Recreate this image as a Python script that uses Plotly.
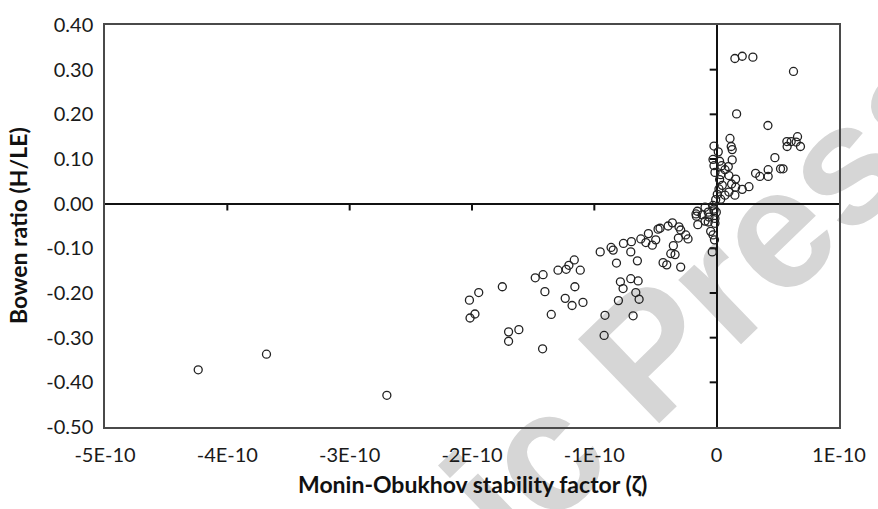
import plotly.graph_objects as go

# Monin-Obukhov stability factor (zeta) and Bowen ratio (H/LE)
zeta = [
    -4.238e-10, -3.680e-10, -2.696e-10,
    -2.021e-10, -1.945e-10, -2.016e-10, -1.976e-10, -1.752e-10, -1.701e-10, -1.617e-10,
    -1.701e-10, -1.423e-10, -1.483e-10, -1.419e-10, -1.404e-10, -1.297e-10, -1.230e-10,
    -1.208e-10, -1.164e-10, -1.115e-10, -1.159e-10, -1.238e-10, -1.182e-10, -1.093e-10,
    -1.352e-10,
    -0.952e-10, -0.863e-10, -0.846e-10, -0.819e-10, -0.762e-10, -0.697e-10, -0.702e-10,
    -0.648e-10, -0.620e-10, -0.579e-10, -0.558e-10, -0.526e-10, -0.498e-10, -0.479e-10,
    -0.463e-10, -0.397e-10, -0.362e-10, -0.308e-10, -0.294e-10, -0.313e-10, -0.253e-10,
    -0.234e-10, -0.354e-10, -0.375e-10, -0.340e-10, -0.438e-10, -0.408e-10, -0.294e-10,
    -0.787e-10, -0.765e-10, -0.702e-10, -0.642e-10, -0.661e-10, -0.634e-10, -0.803e-10,
    -0.913e-10, -0.683e-10, -0.920e-10,
    -0.158e-10, -0.169e-10, -0.095e-10, -0.069e-10, -0.022e-10, -0.003e-10, -0.166e-10,
    -0.118e-10, -0.063e-10, -0.095e-10, -0.014e-10, -0.154e-10, -0.069e-10, -0.014e-10,
    -0.049e-10, -0.030e-10, -0.018e-10, -0.036e-10, -0.022e-10, -0.030e-10,
    -0.008e-10, 0.033e-10, 0.005e-10, 0.068e-10, 0.149e-10, 0.019e-10, 0.100e-10,
    0.046e-10, 0.122e-10, 0.155e-10, 0.209e-10, 0.264e-10, 0.024e-10, 0.155e-10,
    0.033e-10, 0.100e-10, 0.068e-10, -0.014e-10, -0.022e-10, 0.041e-10, 0.095e-10,
    -0.030e-10, 0.024e-10, 0.127e-10, -0.022e-10, 0.013e-10, 0.109e-10, 0.119e-10,
    0.127e-10, 0.163e-10, 0.419e-10, 0.149e-10, 0.209e-10, 0.296e-10, 0.628e-10,
    0.574e-10, 0.609e-10, 0.661e-10, 0.650e-10, 0.576e-10, 0.685e-10, 0.476e-10,
    0.522e-10, 0.543e-10, 0.318e-10, 0.353e-10, 0.421e-10, 0.421e-10,
]
bowen = [
    -0.372, -0.337, -0.429,
    -0.216, -0.199, -0.256, -0.247, -0.186, -0.287, -0.282,
    -0.308, -0.325, -0.166, -0.159, -0.197, -0.149, -0.147,
    -0.138, -0.126, -0.149, -0.186, -0.212, -0.228, -0.221,
    -0.248,
    -0.108, -0.098, -0.104, -0.133, -0.089, -0.085, -0.108,
    -0.128, -0.079, -0.087, -0.067, -0.093, -0.081, -0.057,
    -0.055, -0.050, -0.043, -0.052, -0.059, -0.077, -0.070,
    -0.079, -0.094, -0.112, -0.114, -0.132, -0.137, -0.142,
    -0.175, -0.190, -0.168, -0.173, -0.199, -0.214, -0.217,
    -0.250, -0.251, -0.295,
    -0.017, -0.023, -0.008, -0.019, -0.016, -0.019, -0.028,
    -0.025, -0.030, -0.039, -0.033, -0.047, -0.041, -0.044,
    -0.062, -0.070, -0.081, -0.108, -0.012, -0.004,
    0.009, 0.010, 0.021, 0.019, 0.019, 0.033, 0.026,
    0.041, 0.044, 0.037, 0.032, 0.038, 0.054, 0.055,
    0.065, 0.063, 0.076, 0.070, 0.085, 0.085, 0.083,
    0.099, 0.095, 0.098, 0.129, 0.116, 0.146, 0.128,
    0.121, 0.201, 0.175, 0.325, 0.330, 0.328, 0.296,
    0.139, 0.139, 0.150, 0.138, 0.128, 0.128, 0.103,
    0.078, 0.078, 0.068, 0.061, 0.061, 0.076,
]

x_tickvals = [-5e-10, -4e-10, -3e-10, -2e-10, -1e-10, 0, 1e-10]
x_ticktext = ["-5E-10", "-4E-10", "-3E-10", "-2E-10", "-1E-10", "0", "1E-10"]
y_tickvals = [0.40, 0.30, 0.20, 0.10, 0.00, -0.10, -0.20, -0.30, -0.40, -0.50]
y_ticktext = ["0.40", "0.30", "0.20", "0.10", "0.00", "-0.10", "-0.20", "-0.30", "-0.40", "-0.50"]
x_range = [-5e-10, 1e-10]
y_range = [-0.5, 0.4]
# ticks drawn on the zero lines (crossing axes)
x_zero_ticks = [-4e-10, -3e-10, -2e-10, -1e-10]
y_zero_ticks = [0.30, 0.20, 0.10, -0.10, -0.20, -0.30, -0.40]

FONT = "Lato"
tick_font = dict(family=FONT, size=20, color="#1a1a1a")
title_font = dict(family=FONT, size=23, color="#111111")

fig = go.Figure()

# tick length expressed in axis units (about 7 px)
x_tick_len = (x_range[1] - x_range[0]) * 7 / 735
y_tick_len = (y_range[1] - y_range[0]) * 7 / 412

tick_x, tick_y = [], []
for v in x_zero_ticks:
    tick_x += [v, v, None]
    tick_y += [0.0, -y_tick_len, None]
for v in y_zero_ticks:
    tick_x += [0.0, -x_tick_len, None]
    tick_y += [v, v, None]
fig.add_trace(go.Scatter(
    x=tick_x, y=tick_y, mode="lines", line=dict(color="#111111", width=2),
    showlegend=False, hoverinfo="skip", cliponaxis=False,
))

fig.add_trace(go.Scatter(
    x=zeta, y=bowen, mode="markers",
    marker=dict(symbol="circle-open", size=8, color="#222222", line=dict(width=1.3)),
    showlegend=False, hoverinfo="x+y",
))

# faint publisher watermark behind the plot
fig.add_shape(type="rect", xref="paper", yref="paper", x0=0.473, x1=0.493, y0=-0.221, y1=-0.201,
              layer="below", line=dict(width=0), fillcolor="rgba(0,0,0,0)",
              label=dict(text="<b>Academic Press</b>", textangle=-44, textposition="middle center",
                         font=dict(family="Liberation Sans", size=170, color="#d6d6d6")))

fig.update_layout(
    width=878, height=509,
    margin=dict(l=105, r=38, t=15, b=82),
    paper_bgcolor="white", plot_bgcolor="white",
    xaxis=dict(
        range=x_range, tickvals=x_tickvals, ticktext=x_ticktext,
        showgrid=False, showline=True, mirror=True, linecolor="#4a4a4a", linewidth=1.5,
        zeroline=True, zerolinecolor="#111111", zerolinewidth=1.5,
        ticks="", tickfont=tick_font, ticklabelstandoff=9,
    ),
    yaxis=dict(
        range=y_range, tickvals=y_tickvals, ticktext=y_ticktext,
        showgrid=False, showline=True, mirror=True, linecolor="#4a4a4a", linewidth=1.5,
        zeroline=True, zerolinecolor="#111111", zerolinewidth=1.5,
        ticks="", tickfont=tick_font, ticklabelstandoff=6,
    ),
    annotations=[
        dict(text="<b>Monin-Obukhov stability factor (ζ)</b>", xref="paper", yref="paper",
             x=0.5, y=-0.1408, xanchor="center", yanchor="middle", showarrow=False,
             font=title_font),
        dict(text="<b>Bowen ratio (H/LE)</b>", xref="paper", yref="paper",
             x=-0.1184, y=0.5, xanchor="center", yanchor="middle", textangle=-90,
             showarrow=False, font=title_font),
    ],
)

fig.write_html("out.html")
